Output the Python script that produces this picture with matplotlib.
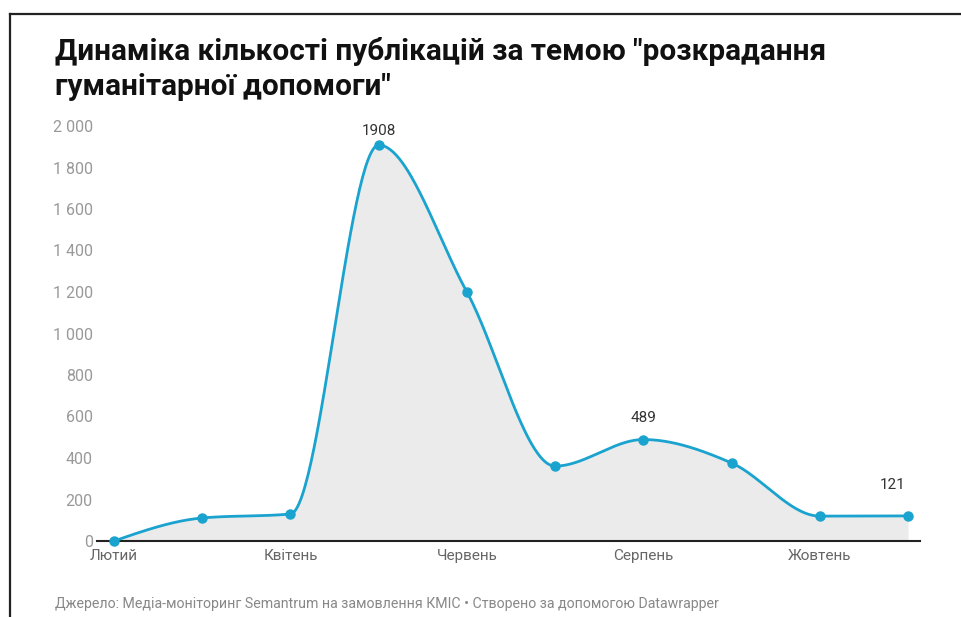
import numpy as np
import matplotlib
matplotlib.use("Agg")
import matplotlib.pyplot as plt
from matplotlib.lines import Line2D

plt.rcParams['font.family'] = ['Roboto', 'DejaVu Sans']

months = ["Лютий", "Березень", "Квітень", "Травень", "Червень", "Липень",
          "Серпень", "Вересень", "Жовтень", "Листопад"]
values = [0, 111, 130, 1908, 1200, 361, 489, 376, 120, 121]
tick_labels = ["Лютий", "Квітень", "Червень", "Серпень", "Жовтень"]
tick_months = ["Лютий", "Квітень", "Червень", "Серпень", "Жовтень"]
labeled_months = ["Травень", "Серпень", "Листопад"]
y_ticks = [0, 200, 400, 600, 800, 1000, 1200, 1400, 1600, 1800, 2000]

title = 'Динаміка кількості публікацій за темою "розкрадання\nгуманітарної допомоги"'
footer = "Джерело: Медіа-моніторинг Semantrum на замовлення КМІС • Створено за допомогою Datawrapper"

LINE = "#1aa3cf"
FILL = "#ebebeb"

# label offsets in pixels (dx, dy) for annotated points
label_offsets = {"Травень": (0, 14), "Серпень": (0, 22), "Листопад": (-15, 31)}


def monotone_x(x, y, n=60):
    """d3 curveMonotoneX-style interpolation."""
    x = np.asarray(x, float)
    y = np.asarray(y, float)
    h = np.diff(x)
    s = np.diff(y) / h
    m = np.zeros_like(y)
    for i in range(1, len(x) - 1):
        s0, s1 = s[i - 1], s[i]
        p = (s0 * h[i] + s1 * h[i - 1]) / (h[i - 1] + h[i])
        m[i] = (np.sign(s0) + np.sign(s1)) * min(abs(s0), abs(s1), 0.5 * abs(p))
    m[0] = (3 * s[0] - m[1]) / 2
    m[-1] = (3 * s[-1] - m[-2]) / 2
    xs, ys = [], []
    for i in range(len(x) - 1):
        t = np.linspace(0, 1, n, endpoint=(i == len(x) - 2))
        xa, xb = x[i], x[i + 1]
        dx = (xb - xa) / 3
        p0 = np.array([xa, y[i]])
        p1 = np.array([xa + dx, y[i] + dx * m[i]])
        p2 = np.array([xb - dx, y[i + 1] - dx * m[i + 1]])
        p3 = np.array([xb, y[i + 1]])
        pts = ((1 - t)[:, None] ** 3 * p0 + 3 * ((1 - t) ** 2 * t)[:, None] * p1
               + 3 * ((1 - t) * t ** 2)[:, None] * p2 + (t ** 3)[:, None] * p3)
        xs.append(pts[:, 0])
        ys.append(pts[:, 1])
    return np.concatenate(xs), np.concatenate(ys)


W, H = 961, 617
fig = plt.figure(figsize=(W / 100, H / 100), dpi=100)
fig.patch.set_facecolor("white")

ax_left, ax_right = 97, 920
ax_top, ax_bottom = 126, 541
ax = fig.add_axes([ax_left / W, 1 - ax_bottom / H,
                   (ax_right - ax_left) / W, (ax_bottom - ax_top) / H])

xi = np.arange(len(months))
px_per_month = (908 - 114) / (len(months) - 1)
x0 = -(114 - ax_left) / px_per_month
x1 = (len(months) - 1) + (ax_right - 908) / px_per_month
ax.set_xlim(x0, x1)
ax.set_ylim(0, 2000)

cx, cy = monotone_x(xi, values)
ax.fill_between(cx, 0, cy, color=FILL, lw=0, zorder=1)
ax.plot(cx, cy, color=LINE, lw=2.0, zorder=3, solid_capstyle="round", clip_on=False)
ax.plot(xi, values, "o", color=LINE, ms=6.5, zorder=4, clip_on=False)

ax.axhline(0, color="#222222", lw=1.5, zorder=2, clip_on=False)

for side in ["top", "right", "left", "bottom"]:
    ax.spines[side].set_visible(False)

ax.set_yticks(y_ticks)
ax.set_yticklabels([f"{v:,}".replace(",", " ") for v in y_ticks])
ax.tick_params(axis="y", length=0, pad=3, labelsize=11.5, labelcolor="#999999")
ax.set_xticks([months.index(m) for m in tick_months])
ax.set_xticklabels(tick_labels)
ax.tick_params(axis="x", length=0, pad=6, labelsize=11, labelcolor="#666666")

for m in labeled_months:
    i = months.index(m)
    dx, dy = label_offsets[m]
    ax.annotate(str(values[i]), (i, values[i]), xytext=(dx * 0.72, dy * 0.72),
                textcoords="offset points", ha="center", va="center",
                fontsize=11, color="#333333", zorder=5)

fig.text(55 / W, 1 - 69 / H, title, fontsize=21.4, fontweight="bold", color="#111111",
         ha="left", va="center", linespacing=1.3)
fig.text(55 / W, 1 - 604 / H, footer, fontsize=10.2, color="#888888", ha="left", va="center")

fig.add_artist(Line2D([10 / W, 1], [1 - 14 / H, 1 - 14 / H], color="#222222", lw=1.6,
                      transform=fig.transFigure))
fig.add_artist(Line2D([10 / W, 10 / W], [1 - 14 / H, 0], color="#222222", lw=1.6,
                      transform=fig.transFigure))

fig.savefig("out.png", dpi=100, facecolor="white")
